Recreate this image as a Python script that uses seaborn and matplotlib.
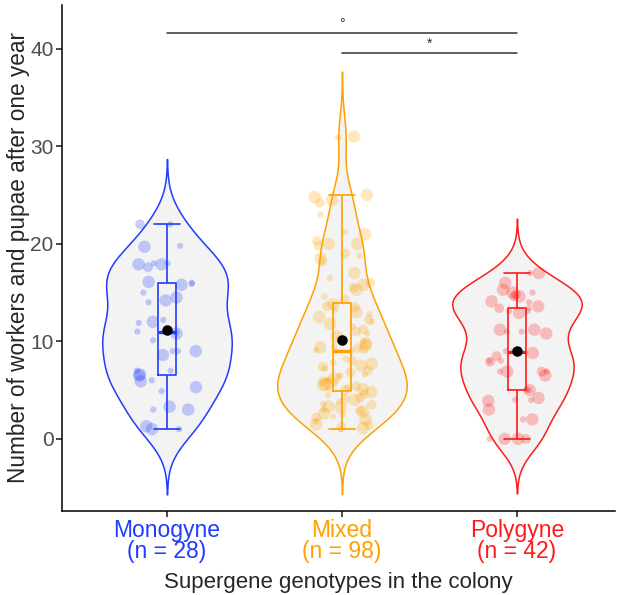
import numpy as np
import pandas as pd
import seaborn as sns
import matplotlib.pyplot as plt

# categories
groups = ["Monogyne", "Mixed", "Polygyne"]
n_labels = ["(n = 28)", "(n = 98)", "(n = 42)"]
colors = ["#1f3cff", "#ffa000", "#ff1a1a"]

# values (size class: 1 small, 2 medium, 3 large)
mono_values = [22, 22, 19.7, 19.8, 17.9, 17.6, 18, 18, 17.9, 16.1, 15.9, 15.8, 16,
               15, 14.5, 14.2, 14, 11.9, 12.2, 12, 11, 11, 10.8, 10.9, 10.1, 9, 9,
               8.6, 9, 7, 7, 6.6, 6.5, 6, 5.9, 5.3, 4.9, 3.3, 3, 3, 1.3, 1, 1]
mono_sizes = [2, 1, 3, 1, 3, 2, 1, 1, 3, 3, 1, 3, 1,
              1, 3, 3, 1, 1, 1, 3, 1, 1, 3, 1, 1, 1, 3,
              3, 1, 1, 1, 3, 3, 1, 3, 3, 1, 3, 3, 1, 3, 3, 1]

mixed_values = [31, 30.9, 25, 24.5, 24.2, 24.8, 23, 21, 21.2, 20,
                20, 20.3, 19.8, 19, 18.5, 18.2, 18.8, 17, 16.5, 16,
                15.8, 15.5, 15.3, 14.6, 14.3, 13.8, 13.5, 13.2, 13, 13.6,
                12.8, 12.5, 12.2, 12, 11.8, 11.5, 11.2, 11, 10.8, 10.5,
                10.2, 10, 9.8, 9.5, 9.2, 9.1, 9.4, 9, 9.3, 9.6,
                8.2, 8, 7.8, 7.5, 7.2, 7, 9, 7.7, 6.8, 6.5,
                6.2, 6, 5.8, 5.5, 5.2, 5, 6.4, 5.6, 5.9, 6.6,
                7.4, 5.3, 5.1, 6.1, 5.4, 4.8, 4.5, 4.2, 4, 3.8,
                3.5, 3.2, 3, 4.6, 3.6, 3.3, 4.1, 2.8, 2.5, 2.2,
                2, 1.8, 1.5, 1.2, 1, 2.6, 1.4, 2.3, 1.1, 2.9]
mixed_sizes = [3, 1, 3, 3, 2, 3, 1, 3, 1, 3,
               3, 2, 2, 2, 3, 2, 1, 3, 1, 2,
               3, 2, 3, 1, 2, 3, 2, 1, 3, 2,
               1, 3, 2, 1, 3, 1, 2, 2, 1, 3,
               2, 1, 3, 1, 2, 1, 3, 1, 2, 3,
               1, 2, 1, 3, 1, 2, 1, 3, 2, 1,
               3, 1, 2, 3, 1, 2, 1, 3, 2, 1,
               2, 1, 3, 1, 2, 3, 1, 2, 3, 1,
               2, 3, 1, 2, 1, 3, 2, 3, 1, 2,
               3, 1, 3, 2, 1, 3, 2, 1, 3, 2]

poly_values = [17, 17, 16, 15.3, 15, 14.8, 14.6, 15, 14.6, 14.1, 14, 13.6, 13.4,
               13.4, 13.1, 13.1, 12.9, 11.2, 11.2, 11, 11, 10.8, 9, 9, 8.8, 8.5, 8,
               8, 7.9, 6.9, 6.9, 6.9, 6.9, 6.5, 5, 5, 5, 4.2, 4, 4, 3.9, 3, 2, 2,
               0, 0, 0, 0]
poly_sizes = [3, 1, 3, 3, 3, 2, 3, 1, 2, 3, 1, 3, 2,
              1, 1, 1, 3, 3, 3, 1, 1, 3, 1, 1, 3, 2, 1,
              1, 2, 3, 1, 1, 2, 3, 1, 1, 3, 3, 1, 1, 3, 3, 1, 3,
              2, 3, 1, 3]

# significance brackets
sig_left = [0, 1]
sig_right = [2, 2]
sig_height = [41.6, 39.6]
sig_label = ["°", "*"]

df = pd.DataFrame({
    "group": ["Monogyne"] * len(mono_values) + ["Mixed"] * len(mixed_values)
             + ["Polygyne"] * len(poly_values),
    "value": mono_values + mixed_values + poly_values,
    "sz": mono_sizes + mixed_sizes + poly_sizes,
})

sns.set_theme(style="white")
plt.rcParams["font.family"] = ["Liberation Sans", "DejaVu Sans"]

fig = plt.figure(figsize=(6.18, 5.95), dpi=100)
ax = fig.add_axes([0.1003, 0.1412, 0.8948, 0.8504])
pal = dict(zip(groups, colors))

sns.violinplot(data=df, x="group", y="value", hue="group", order=groups,
               hue_order=groups, palette=pal, fill=False, inner=None, cut=3,
               bw_adjust=0.8, density_norm="width", width=0.74, linewidth=1.1,
               legend=False, ax=ax)
for coll in ax.collections:
    coll.set_facecolor("#f3f3f3")
    coll.set_zorder(1)

np.random.seed(3)
for k, ms in [(1, 4.5), (2, 7), (3, 9)]:
    sub = df[df["sz"] == k]
    sns.stripplot(data=sub, x="group", y="value", hue="group", order=groups,
                  hue_order=groups, palette=pal, size=ms, alpha=0.25,
                  jitter=0.18, linewidth=0, legend=False, zorder=2, ax=ax)

sns.boxplot(data=df, x="group", y="value", hue="group", order=groups,
            hue_order=groups, palette=pal, fill=False, width=0.1,
            showfliers=False, linewidth=1.2, capwidths=0.15,
            medianprops=dict(linewidth=2.3), legend=False, zorder=3, ax=ax)

sns.pointplot(data=df, x="group", y="value", order=groups, estimator="mean",
              errorbar=None, color="black", linestyle="none", markers="o",
              markersize=5.5, zorder=5, ax=ax)

for l, r, h, lab in zip(sig_left, sig_right, sig_height, sig_label):
    ax.plot([l, r], [h, h], color="#333333", linewidth=1.1, zorder=4)
    ax.text((l + r) / 2, h + 0.25, lab, ha="center", va="bottom", fontsize=10,
            color="#333333")

ax.set_xlim(-0.6, 2.56)
ax.set_ylim(-7.4, 44.5)
ax.set_yticks([0, 10, 20, 30, 40])
ax.set_xticks([0, 1, 2])
ax.set_xticklabels([f"{g}\n{n}" for g, n in zip(groups, n_labels)],
                   fontsize=16.5, linespacing=0.85)
for lbl, c in zip(ax.get_xticklabels(), colors):
    lbl.set_color(c)
ax.tick_params(axis="y", labelsize=15, labelcolor="#4d4d4d", length=4,
               color="#333333", left=True, pad=2)
ax.tick_params(axis="x", length=4, color="#333333", bottom=True, pad=2)
ax.set_xlabel("Supergene genotypes in the colony", fontsize=16, labelpad=7)
ax.set_ylabel("Number of workers and pupae after one year", fontsize=16.3,
              labelpad=0)
sns.despine(ax=ax)
for s in ["left", "bottom"]:
    ax.spines[s].set_color("black")
    ax.spines[s].set_linewidth(1.1)

fig.savefig("out.png", dpi=100)
